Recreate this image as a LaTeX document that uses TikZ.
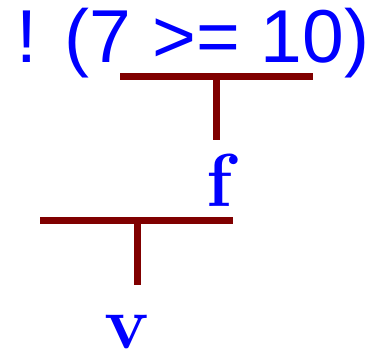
\documentclass[tikz,border=0pt]{standalone}
\usepackage{fontspec}
\newfontfamily\exprfont{Liberation Sans}
\begin{document}
\begin{tikzpicture}[x=1pt,y=1pt,
    bar/.style={draw=maroon,line width=7pt},
    label/.style={text=blue,inner sep=0pt}]
    \definecolor{maroon}{RGB}{128,0,0}
    \useasboundingbox (0,0) rectangle (367,352);

    \coordinate (A) at (120,275);
    \coordinate (B) at (216,275);
    \coordinate (C) at (313,275);
    \coordinate (D) at (216,212);
    \coordinate (E) at (40,131);
    \coordinate (F) at (137,131);
    \coordinate (G) at (233,131);
    \coordinate (H) at (137,67);

    % Lines
    \draw[bar] (A) -- (C);   % top bar
    \draw[bar] (B) -- (D);   % stem to f
    \draw[bar] (E) -- (G);   % lower bar
    \draw[bar] (F) -- (H);   % stem to v

    % Labels
    \node[label,anchor=base west,font=\exprfont\fontsize{75}{80}\selectfont] (expr) at (16,289) {! (7 >= 10)};
    \node[label,anchor=base,font=\bfseries\fontsize{75}{80}\selectfont] (f) at (219,145) {f};
    \node[label,anchor=base,font=\bfseries\fontsize{75}{80}\selectfont] (v) at (127,3) {v};

\end{tikzpicture}
\end{document}
